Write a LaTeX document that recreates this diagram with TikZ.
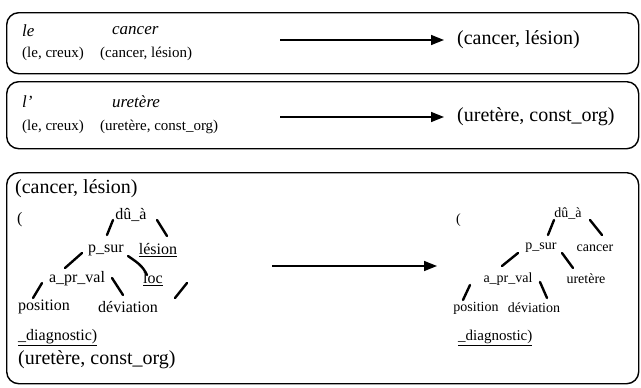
\documentclass[tikz,border=0pt]{standalone}
\usepackage{fontspec}
\setmainfont{Liberation Serif}
\usetikzlibrary{arrows.meta,calc}
\begin{document}
\begin{tikzpicture}[x=1pt,y=-1pt,
  frame/.style={draw, line width=1.4pt, rounded corners=12pt, anchor=north west, inner sep=0pt},
  txt/.style={inner sep=0pt, anchor=west},
  sm/.style={font=\fontsize{15}{18}\selectfont},
  itw/.style={font=\fontsize{17}{20}\selectfont\itshape},
  big/.style={font=\fontsize{20}{24}\selectfont},
  lt/.style={font=\fontsize{16}{19}\selectfont, inner sep=0pt},
  rt/.style={font=\fontsize{14}{17}\selectfont, inner sep=0pt},
  edge/.style={line width=2.4pt, line cap=round},
  arr/.style={line width=1.5pt, -{Triangle[length=13pt,width=10pt]}}
]
\useasboundingbox (0,0) rectangle (641,388);

% frames
\node[frame, minimum width=632pt, minimum height=61pt] (b1) at (6,12) {};
\node[frame, minimum width=632pt, minimum height=67pt] (b2) at (6,81) {};
\node[frame, minimum width=632pt, minimum height=211pt] (b3) at (6,172) {};

% box 1
\node[txt, itw] (le1) at (22,31) {le};
\node[txt, itw] (can1) at (112,31) {cancer};
\node[txt, sm] (lc1) at (22,54) {(le, creux)};
\node[txt, sm] (cl1) at (100,54) {(cancer, lésion)};
\coordinate (a1) at (280,40);
\node[txt, big] (o1) at (457,40) {(cancer, lésion)};
\draw[arr, shorten >=13pt] (a1) -- (o1.west);

% box 2
\node[txt, itw] (l2) at (22,102) {l’};
\node[txt, itw] (ur2) at (112,102) {uretère};
\node[txt, sm] (lc2) at (22,127) {(le, creux)};
\node[txt, sm] (uc2) at (100,127) {(uretère, const\_org)};
\coordinate (a2) at (280,117);
\node[txt, big] (o2) at (457,117) {(uretère, const\_org)};
\draw[arr, shorten >=13pt] (a2) -- (o2.west);

% box 3, left tree
\node[txt, big] (cl3) at (15,189) {(cancer, lésion)};
\node[txt, lt] (p3) at (17,220) {(};
\node[lt] (dua) at (131,215) {dû\_à};
\node[lt] (psur) at (106,250) {p\_sur};
\node[lt] (les) at (158,250) {\underline{lésion}};
\node[lt] (apr) at (77,279) {a\_pr\_val};
\node[lt] (loc) at (153,279) {\underline{loc}};
\node[lt] (pos) at (44,307) {position};
\node[lt] (dev) at (128,307) {déviation};
\node[txt, lt] (diag) at (18,338) {\underline{\_diagnostic)}};
\node[txt, big] (uc3) at (18,360) {(uretère, const\_org)};

\draw[edge] ($(psur)+(1,-15)$) -- ($(dua)+(-18,5)$);
\draw[edge] ($(dua)+(26,5)$) -- ($(les)+(9,-14)$);
\draw[edge] ($(apr)+(-12,-11)$) -- ($(psur)+(-24,3)$);
\draw[edge] ($(psur)+(22,6)$) to[out=-35,in=115] ($(loc)+(-6,-4)$);
\draw[edge] ($(apr)+(35,-1)$) -- ($(dev)+(-5,-12)$);
\draw[edge] ($(apr)+(-35,4)$) -- ($(pos)+(-11,-9)$);
\coordinate (s1) at (187,283);
\coordinate (s2) at (175,298);
\draw[edge] (s1) -- (s2);

% middle arrow
\coordinate (m1) at (272,266);
\coordinate (m2) at (437,266);
\draw[arr] (m1) -- (m2);

% box 3, right tree
\node[txt, rt] (p4) at (456,220) {(};
\node[rt] (dua2) at (568,214) {dû\_à};
\node[rt] (psur2) at (541,248) {p\_sur};
\node[rt] (can2) at (595,248) {cancer};
\node[rt] (apr2) at (508,279) {a\_pr\_val};
\node[rt] (ur3) at (586,279) {uretère};
\node[rt] (pos2) at (476,308) {position};
\node[rt] (dev2) at (534,308) {déviation};
\node[txt, rt, font=\fontsize{15}{18}\selectfont] (diag2) at (458,338) {\underline{\_diagnostic)}};

\draw[edge] ($(psur2)+(7,-13)$) -- ($(dua2)+(-14,6)$);
\draw[edge] ($(dua2)+(22,6)$) -- ($(can2)+(7,-13)$);
\draw[edge] ($(apr2)+(-6,-13)$) -- ($(psur2)+(-23,5)$);
\draw[edge] ($(psur2)+(21,5)$) -- ($(ur3)+(-13,-11)$);
\draw[edge] ($(apr2)+(-38,6)$) -- ($(pos2)+(-13,-8)$);
\draw[edge] ($(apr2)+(32,3)$) -- ($(dev2)+(13,-10)$);
\end{tikzpicture}
\end{document}
